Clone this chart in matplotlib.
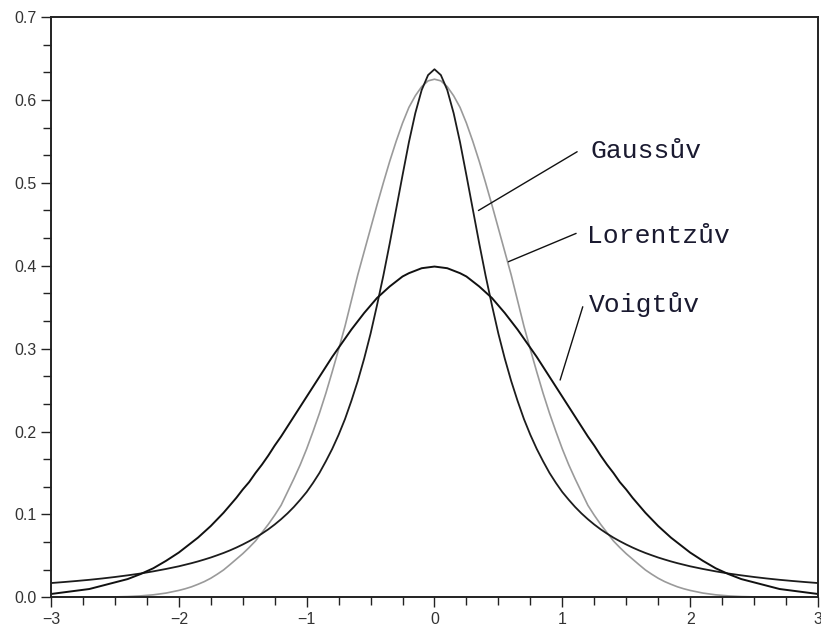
import numpy as np
import matplotlib.pyplot as plt
from matplotlib.ticker import MultipleLocator

# right half of each profile; the curves are symmetric about x = 0
x_half = [0.0, 0.05, 0.1, 0.15, 0.2, 0.25, 0.3, 0.35, 0.4, 0.45, 0.5,
          0.55, 0.6, 0.65, 0.7, 0.75, 0.8, 0.85, 0.9, 0.95, 1.0,
          1.05, 1.1, 1.15, 1.2, 1.25, 1.3, 1.35, 1.4, 1.45, 1.5,
          1.55, 1.6, 1.65, 1.7, 1.75, 1.8, 1.85, 1.9, 1.95, 2.0,
          2.1, 2.2, 2.3, 2.4, 2.5, 2.6, 2.7, 2.8, 2.9, 3.0]

# narrow black curve (label "Gaussův" points at it)
narrow_half = [0.637, 0.630, 0.612, 0.584, 0.549, 0.509, 0.468, 0.427, 0.388, 0.352, 0.318,
               0.288, 0.261, 0.237, 0.215, 0.196, 0.179, 0.164, 0.150, 0.138, 0.127,
               0.1177, 0.109, 0.1012, 0.0942, 0.0878, 0.0820, 0.0768, 0.0720, 0.0677, 0.0637,
               0.0600, 0.0566, 0.0535, 0.0507, 0.0480, 0.0456, 0.0433, 0.0412, 0.0393, 0.0374,
               0.0342, 0.0313, 0.0287, 0.0265, 0.0245, 0.0227, 0.0211, 0.0197, 0.0184, 0.0172]

# grey curve (label "Lorentzův")
grey_half = [0.625, 0.623, 0.616, 0.605, 0.591, 0.572, 0.550, 0.526, 0.500, 0.473, 0.445,
             0.417, 0.389, 0.358, 0.327, 0.299, 0.272, 0.246, 0.222, 0.200, 0.179,
             0.160, 0.143, 0.127, 0.111, 0.099, 0.088, 0.078, 0.068, 0.060, 0.0526,
             0.046, 0.0394, 0.033, 0.0278, 0.023, 0.019, 0.0157, 0.0127, 0.0103, 0.0083,
             0.0051, 0.0030, 0.0017, 0.0009, 0.0005, 0.0003, 0.0002, 0.0001, 0.0001, 0.0]

# wide black curve (label "Voigtův")
wide_half = [0.399, 0.398, 0.397, 0.394, 0.391, 0.387, 0.381, 0.375, 0.368, 0.361, 0.352,
             0.343, 0.333, 0.323, 0.312, 0.301, 0.290, 0.278, 0.266, 0.254, 0.242,
             0.230, 0.218, 0.206, 0.194, 0.183, 0.171, 0.160, 0.150, 0.139, 0.130,
             0.120, 0.111, 0.102, 0.094, 0.086, 0.079, 0.072, 0.066, 0.060, 0.054,
             0.044, 0.035, 0.028, 0.022, 0.018, 0.014, 0.010, 0.008, 0.006, 0.004]

labels = ["Gaussův", "Lorentzův", "Voigtův"]
# text position (baseline left) and leader line (start near text -> tip on curve)
label_pos = [(1.218, 0.530), (1.192, 0.428), (1.210, 0.3445)]
leader_start = [(1.116, 0.5375), (1.108, 0.439), (1.160, 0.3505)]
leader_tip = [(0.344, 0.4666), (0.578, 0.4048), (0.983, 0.2621)]


def mirror(xs, ys):
    xs = np.asarray(xs)
    ys = np.asarray(ys)
    return np.concatenate([-xs[:0:-1], xs]), np.concatenate([ys[:0:-1], ys])


fig = plt.figure(figsize=(8.21, 6.31), dpi=100)
ax = fig.add_axes([0.0621, 0.0534, 0.9342, 0.9196])

x, y = mirror(x_half, grey_half)
ax.plot(x, y, color="#9a9a9a", lw=1.2)
x, y = mirror(x_half, narrow_half)
ax.plot(x, y, color="#1c1c1c", lw=1.3)
x, y = mirror(x_half, wide_half)
ax.plot(x, y, color="#111111", lw=1.4)

for lab, p, s, t in zip(labels, label_pos, leader_start, leader_tip):
    ax.annotate("", xy=t, xytext=s,
                arrowprops=dict(arrowstyle="-", lw=1.0, color="#111111",
                                shrinkA=0, shrinkB=0))
    ax.text(p[0], p[1], lab, family="Liberation Mono", fontsize=19,
            color="#1a1a30", ha="left", va="baseline")

ax.set_xlim(-3, 3)
ax.set_ylim(0, 0.7)
ax.xaxis.set_minor_locator(MultipleLocator(0.25))
ax.yaxis.set_minor_locator(MultipleLocator(0.1 / 3))
ax.set_yticks(np.arange(0, 0.71, 0.1))
ax.set_yticklabels(["%.1f" % v for v in np.arange(0, 0.71, 0.1)])
ax.set_xticks(range(-3, 4))
ax.set_xticklabels(["\u22123", "\u22122", "\u22121", "0", "1", "2", "3"])

for side in ["left", "bottom", "top", "right"]:
    ax.spines[side].set_linewidth(1.4)
    ax.spines[side].set_color("#222222")

ax.tick_params(which="major", length=7.5, width=1.0, color="#222222",
               labelsize=11.5, labelcolor="#333333", pad=3)
ax.tick_params(which="minor", length=5.5, width=1.0, color="#222222")
ax.tick_params(top=False, right=False)
for lab in ax.get_xticklabels() + ax.get_yticklabels():
    lab.set_family("Liberation Sans")

fig.savefig("out.png", dpi=100)
